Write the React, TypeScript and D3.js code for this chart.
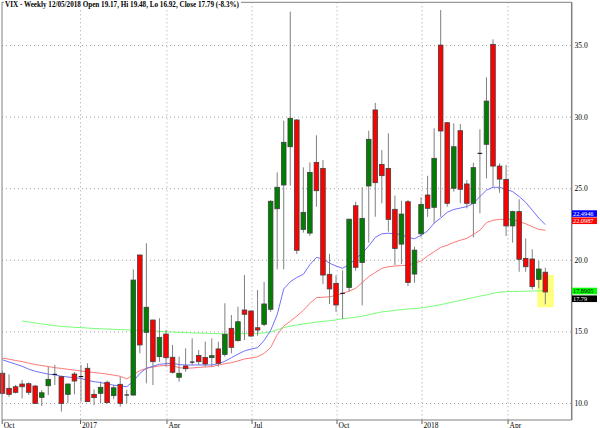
import React from "react";
import * as d3 from "d3";

// ---- data ----
const opens = [12.11,11.06,11.17,11.36,11.38,11.22,10.43,11.24,12.01,11.87,10.64,12.06,11.9,12.46,10.64,10.71,11.48,10.55,11.34,10.6,
  10.59,20.37,14.97,15.83,13.27,14.85,13.23,11.83,12.62,12.9,13.36,13.22,13.22,13.81,13.43,15.25,14.39,16.53,16.46,15.29,
  15.53,16.58,23.6,25.26,27.93,29.8,22.16,21.9,26.84,26.42,19.02,18.39,17.71,18.1,23.81,19.85,25.19,30.5,26.7,26.42,
  23.56,21.13,24.09,19.04,21.85,24.56,23.7,35.03,29.61,25.03,29.05,25.33,23.98,27.47,28.1,35.08,26.58,25.65,22.4,23.4,
  20.13,20.09,18.67,19.17];
const highs = [12.25,12.04,11.3,11.64,11.48,11.3,10.94,12.57,12.69,11.94,11.4,12.2,12.69,12.81,10.99,11.52,11.6,11.3,11.87,10.95,
  19.37,20.4,21.19,15.85,15.95,15.13,14.09,13.27,13.85,14.55,13.74,14.32,14.55,14.32,17.0,16.18,16.76,18.97,16.5,17.93,
  18.5,24.2,26.14,29.75,37.36,29.85,26.49,26.84,28.73,27.0,20.44,18.95,19.3,22.9,24.09,25.1,29.05,31.0,27.7,28.87,
  24.51,24.16,24.21,20.95,24.4,25.9,29.22,37.48,29.65,29.57,29.52,25.6,26.82,29.15,32.78,35.43,26.77,26.66,23.47,24.26,
  21.53,20.77,19.97,19.48];
const lows = [10.62,10.47,10.7,10.36,10.6,9.97,9.83,10.59,11.29,9.43,10.01,10.64,10.13,10.1,9.9,10.01,10.0,10.3,9.78,10.01,
  10.55,13.5,11.41,11.29,12.92,12.57,12.1,11.52,12.22,12.69,12.69,12.57,12.57,12.57,13.27,13.5,14.32,14.43,14.66,14.73,
  15.4,16.4,19.37,19.37,25.21,20.44,21.93,21.7,23.74,18.34,16.95,16.4,15.9,17.81,19.27,16.85,21.23,23.04,23.98,22.0,
  19.67,19.74,18.2,18.43,21.6,23.04,22.58,23.04,23.74,24.8,23.98,23.63,21.6,23.28,25.72,25.14,24.72,21.7,21.23,19.2,
  19.2,17.97,18.04,16.92];
const closes = [10.71,10.64,10.78,11.17,10.78,10.01,10.75,11.69,12.06,10.01,11.36,11.57,11.86,10.13,10.41,11.13,10.06,11.1,10.01,10.59,
  18.62,14.09,16.72,12.92,14.62,13.2,12.18,12.11,12.43,12.88,12.92,12.76,13.34,12.81,14.83,13.92,15.71,16.23,14.71,15.13,
  16.95,24.12,25.1,28.24,29.92,20.7,23.35,26.14,24.86,18.97,18.0,16.88,17.68,22.87,19.51,22.93,28.45,25.42,25.91,22.86,
  20.83,23.23,18.45,20.71,23.9,23.63,27.12,29.03,23.98,27.93,24.96,23.98,26.47,27.47,31.12,26.58,25.67,22.4,23.4,20.07,
  19.55,18.16,19.39,17.79];

const maBlue = [13.05,12.9,12.75,12.6,12.4,12.25,12.15,12.05,12.0,11.9,11.85,11.8,11.75,11.62,11.52,11.47,11.36,11.28,11.22,11.17,
  11.55,12.1,12.46,12.6,12.74,12.78,12.8,12.72,12.69,12.69,12.69,12.69,12.69,12.78,12.95,13.2,13.45,13.67,13.8,13.9,
  14.4,15.1,16.2,18.0,18.5,18.8,19.02,19.7,20.2,20.1,19.8,19.6,19.44,19.7,20.1,20.5,21.0,21.6,21.85,21.89,
  21.85,21.8,21.6,21.5,21.75,22.05,22.6,22.95,23.35,23.55,23.65,23.75,23.98,24.45,24.9,25.1,25.1,24.95,24.8,24.45,
  24.05,23.5,22.95,22.49];
const maRed = [13.16,13.1,13.0,12.93,12.82,12.72,12.65,12.58,12.5,12.45,12.39,12.33,12.27,12.22,12.16,12.11,12.05,11.98,11.9,11.72,
  11.99,12.3,12.45,12.55,12.62,12.67,12.66,12.5,12.46,12.48,12.52,12.55,12.57,12.68,12.78,12.85,12.97,13.11,13.18,13.27,
  13.5,13.9,14.8,15.4,15.75,16.1,16.5,17.0,17.39,17.42,17.45,17.55,17.69,17.85,18.04,18.45,18.86,19.15,19.44,19.55,
  19.6,19.63,19.67,19.8,19.95,20.3,20.6,20.9,21.05,21.25,21.4,21.53,21.8,22.1,22.63,22.8,22.86,22.86,22.86,22.7,
  22.55,22.35,22.15,22.1];
const maGreen = [null,null,null,15.76,15.7,15.62,15.55,15.5,15.43,15.38,15.35,15.32,15.3,15.27,15.24,15.22,15.2,15.18,15.16,15.14,
  15.13,15.11,15.09,15.06,15.03,15.01,14.99,14.97,14.95,14.93,14.92,14.9,14.89,14.87,14.86,14.86,14.87,14.88,14.89,14.9,
  14.93,15.0,15.15,15.3,15.4,15.48,15.55,15.62,15.68,15.74,15.78,15.84,15.92,15.97,16.02,16.1,16.2,16.3,16.4,16.45,
  16.5,16.55,16.6,16.63,16.67,16.74,16.82,16.9,17.0,17.1,17.2,17.3,17.4,17.5,17.58,17.7,17.78,17.81,17.82,17.83,
  17.84,17.85,17.87,17.89];

const xTickLabels = ["Oct", "2017", "Apr", "Jul", "Oct", "2018", "Apr"];
const xTickIndex = [-0.05, 11.93, 25.15, 38.15, 51.15, 64.14, 77.3];
const yTicks = [10, 15, 20, 25, 30, 35];

const lastLabels = ["22.4946", "22.0987", "17.8905", "17.79"];
const lastValues = [22.4946, 22.0987, 17.8905, 17.79];
const highlightLow = 16.72;
const highlightHigh = 18.97;
const highlightFrom = 81.77;
const highlightTo = 84.3;

const title = "VIX - Weekly 12/05/2018 Open 19.17, Hi 19.48, Lo 16.92, Close 17.79 (-8.3%)";

// ---- styles / layout ----
const W = 600, H = 428;
const left = 2, right = 571.7, top = 2.3, bottom = 420;
const labelStyles = [
  { fill: "#0000ff", color: "#ffffff", shift: -11 },
  { fill: "#ff0000", color: "#ffffff", shift: -9.5 },
  { fill: "#00ff00", color: "#000000", shift: 0.5 },
  { fill: "#000000", color: "#ffffff", shift: 6.8 },
];

export default function App() {
  const n = closes.length;
  const x = d3.scaleLinear().domain([0, n - 1]).range([2.5, 2.5 + (n - 1) * 6.54]);
  const y = d3.scaleLinear().domain([10, 35]).range([403.5, 45.5]);
  const bw = 4.6;

  const mkLine = (arr: (number | null)[]) =>
    d3.line<number | null>()
      .defined((d) => d != null)
      .x((_, i) => x(i))
      .y((d) => y(d as number))(arr) || "";

  const font = "'Liberation Serif', 'DejaVu Serif', serif";

  return (
    <svg width={W} height={H} style={{ position: "absolute", left: 0, top: 0, background: "#fff" }}>
      <rect x={0} y={0} width={W} height={H} fill="#ffffff" />
      {/* highlight */}
      <rect x={x(highlightFrom)} y={y(highlightHigh)} width={x(highlightTo) - x(highlightFrom)}
        height={y(highlightLow) - y(highlightHigh)} fill="#ffff80" />
      {/* grid */}
      {yTicks.map((t) => (
        <line key={"gy" + t} x1={left} x2={right} y1={y(t)} y2={y(t)} stroke="#a0a0a0" strokeWidth={1} strokeDasharray="1,3" />
      ))}
      {xTickIndex.map((t, i) => i > 0 && (
        <line key={"gx" + i} x1={x(t)} x2={x(t)} y1={top} y2={bottom} stroke="#a0a0a0" strokeWidth={1} strokeDasharray="1,3" />
      ))}
      {/* moving averages */}
      <path d={mkLine(maGreen)} fill="none" stroke="#77ff77" strokeWidth={1} />
      <path d={mkLine(maRed)} fill="none" stroke="#ff7777" strokeWidth={1} />
      <path d={mkLine(maBlue)} fill="none" stroke="#7070ff" strokeWidth={1} />
      {/* candles */}
      {closes.map((c, i) => {
        const o = opens[i];
        const cx = x(i);
        const doji = Math.abs(c - o) < 0.06;
        const up = c >= o;
        const yt = y(Math.max(o, c));
        const yb = y(Math.min(o, c));
        return (
          <g key={"c" + i}>
            <line x1={cx} x2={cx} y1={y(highs[i])} y2={y(lows[i])} stroke="#808080" strokeWidth={1} />
            {doji ? (
              <line x1={cx - bw / 2} x2={cx + bw / 2} y1={(yt + yb) / 2} y2={(yt + yb) / 2} stroke="#000" strokeWidth={1} />
            ) : (
              <rect x={cx - bw / 2} y={yt} width={bw} height={Math.max(1, yb - yt)}
                fill={up ? "#008000" : "#ff0000"} stroke="#404040" strokeWidth={0.8} />
            )}
          </g>
        );
      })}
      {/* frame */}
      <line x1={left} x2={left} y1={top} y2={bottom} stroke="#808080" strokeWidth={1} />
      <line x1={left} x2={right} y1={bottom} y2={bottom} stroke="#808080" strokeWidth={1.2} />
      <line x1={right} x2={right} y1={top} y2={bottom} stroke="#808080" strokeWidth={1.5} />
      <line x1={left} x2={right} y1={top} y2={top} stroke="#808080" strokeWidth={1} />
      {/* title */}
      <rect x={4} y={0} width={237} height={8} fill="#ffffff" />
      <text x={5} y={7} fontFamily={font} fontWeight="bold" fontSize={7.5} textLength={234} lengthAdjust="spacingAndGlyphs" fill="#000">{title}</text>
      {/* x axis ticks */}
      {xTickIndex.map((t, i) => (
        <g key={"xt" + i}>
          <line x1={Math.max(left, x(t))} x2={Math.max(left, x(t))} y1={bottom} y2={bottom + 4} stroke="#606060" strokeWidth={1} />
          <text x={Math.max(left, x(t)) + 1.5} y={427.5} fontFamily={font} fontSize={7.5} fill="#000">{xTickLabels[i]}</text>
        </g>
      ))}
      {/* y axis labels */}
      {yTicks.map((t) => (
        <text key={"yl" + t} x={574.5} y={y(t) + 2.5} fontFamily={font} fontSize={7.5} fill="#000">{t.toFixed(1)}</text>
      ))}
      {/* last value labels */}
      {lastValues.map((v, i) => {
        const s = labelStyles[i];
        const cy = y(v) + s.shift;
        return (
          <g key={"lv" + i}>
            <rect x={572} y={cy - 3.3} width={25} height={6.6} fill={s.fill} />
            <text x={573} y={cy + 2.1} fontFamily={font} fontSize={6.3} fill={s.color}>{lastLabels[i]}</text>
          </g>
        );
      })}
    </svg>
  );
}
